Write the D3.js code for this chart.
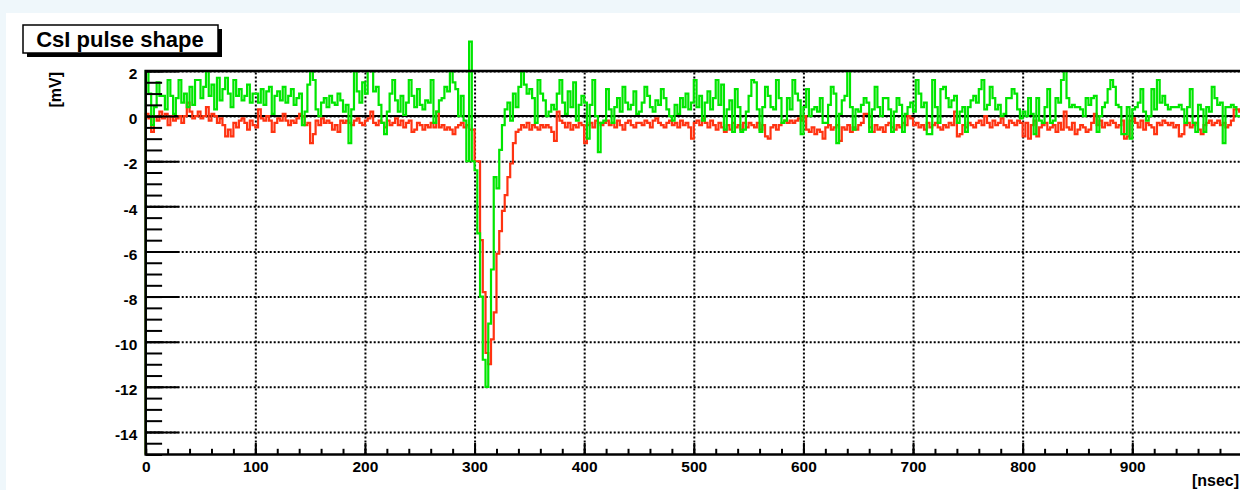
<!DOCTYPE html>
<html>
<head>
<meta charset="utf-8">
<script src="https://cdn.jsdelivr.net/npm/d3@7"></script>
<style>
  body { margin: 0; background: #eff7fb; }
  svg { display: block; font-family: "Liberation Sans", Arial, Helvetica, sans-serif; font-weight: bold; }
  .grid line { stroke: #000; stroke-width: 2; stroke-dasharray: 2 2; }
  .grid path { display: none; }
  .axis path { display: none; }
  .axis line { stroke: #000; stroke-width: 2; }
  .axis text { font-family: "Liberation Sans", Arial, Helvetica, sans-serif; font-size: 15.5px; font-weight: bold; fill: #000; }
</style>
</head>
<body>
<svg id="chart" width="1240" height="490"></svg>
<script>
// bin contents in mV, 2.5 ns per bin, 0..1000 ns
const binWidth = 2.5;

const greenPulse = [
   2.0, 1.0,-0.4, 0.4, 1.5, 0.9, 0.9, 0.3, 1.6, 0.9, 0.1, 0.8, 1.6, 0.6, 1.0, 0.4, 1.3, 0.5, 1.6, 1.6,
   0.8, 1.3, 2.0, 0.9, 1.4, 0.3, 1.7, 0.7, 1.2, 1.7, 1.0, 0.4, 1.6, 0.9, 1.2, 0.7, 0.9, 1.4, 0.6, 1.0,
   1.0, 0.6, 1.2, 0.5, 1.1, 1.3, 0.1, 0.9, 1.1, 0.7, 1.3, 0.6, 0.9, 1.2, 0.5, 0.8, 1.0,-0.4, 0.2, 1.4,
   2.0, 1.6, 0.3, 0.0, 0.6, 0.8, 0.4, 0.9, 0.6, 0.5, 1.0, 0.7, 0.2, 0.5,-1.2, 0.3, 2.0, 1.1, 0.6, 1.5,
   1.0, 2.0, 2.0, 1.1, 1.3, 0.5,-0.3,-0.8, 0.2, 1.0, 1.6, 0.7, 0.2, 0.9, 0.05,0.6, 1.6, 0.9, 0.4, 1.2,
   0.5, 0.3, 0.7, 0.6, 1.6,-0.3, 0.2, 0.7, 0.8, 1.3, 1.1, 2.0, 1.5, 1.2, 0.0, 0.9,-0.2,-2.0, 3.3,-2.0,
  -2.4,-5.2,-8.0,-10.8,-12.0,-9.2,-6.8,-2.7,-3.2,-1.5,-0.4, 0.3, 0.6,-0.2, 1.0, 0.4, 1.3, 2.0, 1.4, 1.0,
   1.2, 0.8,-0.3, 1.6, 1.0, 0.7, 0.0, 0.2, 0.5, 0.3, 1.0, 1.6, 0.6, 0.1, 1.1, 0.4, 1.5,-0.2, 0.5, 0.9,
   0.6,-1.0, 0.5, 1.6, 0.0,-1.6,-0.3,-0.2, 1.2, 0.3,-0.3, 0.4, 0.8, 0.2, 1.3, 0.6, 0.3, 0.5, 1.1, 0.1,
   0.2, 0.6, 1.3, 0.9, 0.4, 0.2, 0.7, 0.5, 1.2, 0.8, 0.3, 0.0,-0.2, 0.5, 0.1, 0.8, 0.4, 1.0, 0.3, 0.6,
   1.6, 0.4, 0.9,-0.2, 0.6, 1.1, 0.3, 0.8, 1.6, 0.5, 1.4,-0.6, 0.3, 0.7,-0.7, 1.2, 0.4,-0.7,-0.6, 0.2,
   0.9, 1.6, 1.5, 0.3,-0.7, 0.4, 1.3, 0.9, 0.4, 0.3, 1.6, 0.8,-0.3,-0.2, 0.8, 0.3, 1.6, 1.0, 0.7,-0.8,
   0.4, 1.2, 0.0, 0.3, 0.4, 0.2, 0.8,-0.3,-0.3, 0.5, 1.3, 1.0,-1.2, 0.1, 0.7, 0.9, 2.0, 0.4,-0.6, 0.3,
   0.2, 0.5, 0.8, 0.6,-0.7, 0.3, 1.3, 0.4, 0.0, 0.8, 0.8, 0.3,-0.7, 0.2, 0.8, 0.5,-0.7, 0.1, 0.4, 0.6,
   0.2, 1.6, 1.0, 0.4, 0.6,-0.8,-0.8, 1.6, 0.4,-0.3, 1.2, 1.3, 0.8, 0.4, 0.7, 0.9,-0.3, 0.2, 0.4,-0.7,
   0.4, 0.7, 0.9, 0.6, 1.2, 1.6, 0.3, 0.5, 1.3, 0.8, 0.3, 0.5, 0.0, 0.1, 0.8, 0.8, 1.2, 1.0, 0.3,-0.1,
   0.2, 0.0, 0.8, 0.1,-0.8, 0.8,-0.2,-0.3, 0.4, 1.2,-0.3,-0.2, 0.8, 0.6, 1.6, 2.0, 0.8, 0.4, 0.5, 0.4,
   0.4, 0.3, 0.0, 0.8, 0.5, 0.8, 0.9,-0.7, 0.0, 0.4, 0.6, 1.2, 1.6, 1.3, 0.5, 0.4,-0.8,-0.8, 0.4,-1.0,
   0.3, 0.4, 0.6, 1.2, 0.2,-0.2, 0.0, 1.2, 0.3, 1.6, 0.6, 0.9, 0.5, 0.3, 0.4, 0.4, 0.4, 0.5, 0.3,-0.3,
   0.4, 1.2,-0.3,-0.7, 0.5, 0.3,-0.7, 0.4, 0.2, 1.3, 0.8, 0.5, 0.6,-1.2, 0.4, 0.4, 0.5, 0.4, 0.0, 0.0
];

const redPulse = [
   0.1,-0.1,-0.7, 0.0,-0.2, 0.2,-0.1, 0.1,-0.4, 0.0,-0.2,-0.1, 0.0,-0.3, 0.0, 0.6, 0.2,-0.1, 0.0, 0.2,
  -0.1, 0.0, 0.4,-0.2, 0.1, 0.0,-0.3,-0.1,-0.4,-0.9,-0.6,-0.9,-0.3,-0.5,-0.2,-0.1,-0.3,-0.6,-0.2,-0.4,
  -0.5, 0.3,-0.1,-0.2, 0.0,-0.2,-0.7,-0.3,-0.1,-0.2, 0.1,-0.2,-0.4,-0.2,-0.3,-0.1, 0.1, 0.0,-0.4,-0.3,
  -1.2,-0.8,-0.2,-0.4,-0.1,-0.3,-0.2,-0.3,-0.6,-0.4,-0.7,-0.2,-0.3,-0.2,-0.3,-0.4,-0.2,-0.1,-0.3,-0.4,
  -0.2,-0.1, 0.2,-0.3,-0.4,-0.2,-0.3,-0.5,-0.2,-0.4,-0.3,-0.1,-0.4,-0.2,-0.5,-0.3,-0.2,-0.7,-0.6,-0.3,
  -0.4,-0.6,-0.4,-0.5,-0.3,-0.5, 0.2,-0.5,-0.4,-0.6,-0.5,-0.6,-0.8,-0.5,-0.4,-0.3,-0.5,-0.4,-0.6,-0.6,
  -2.0,-2.0,-5.5,-7.8,-10.5,-11.0,-9.9,-8.7,-6.1,-5.1,-4.2,-3.5,-2.7,-2.1,-1.2,-0.7,-0.6,-0.4,-0.5,-0.3,
  -0.6,-0.4,-0.5,-0.6,-0.4,-0.5,-0.4,-0.5,-0.7,-1.1, 0.2,-0.2,-0.3,-0.5,-0.3,-0.6,-0.4,-0.5,-0.3,-0.4,
  -1.2,-0.4,-0.3,-0.5,-0.2,-0.3,-0.4,-0.3,-0.2,-0.4,-0.3,-0.5,-0.2,-0.4,-0.6,-0.3,-0.2,-0.4,-0.5,-0.3,
  -0.3,-0.4,-0.2,-0.3,-0.5,-0.2,-0.1,-0.3,-0.4,-0.5,-0.3,-0.2,-0.4,-0.3,-0.5,-0.2,-0.4,-0.3,-0.5,-1.0,
  -0.3,-0.2,-0.4,-0.1,-0.3,-0.5,-0.2,-0.4,-0.6,-0.3,-0.5,-0.7,-0.4,-0.6,-0.3,-0.5,-0.4,-0.6,-0.3,-0.5,
  -0.3,-0.4,-0.5,-0.3,-0.6,-0.4,-0.9,-1.0,-0.5,-0.4,-0.6,-0.4,-0.3,-0.2,-0.3,-0.2,-0.3,-0.2,-0.1,-0.2,
   0.0,-0.6,-0.7,-0.5,-0.8,-0.6,-0.7,-1.0,-0.5,-0.4,-0.6,-0.5,-0.4,-1.1,-0.5,-0.6,-0.4,-0.7,-0.5,-0.6,
  -0.4,-0.3, 0.1, 0.1,-0.5,-0.7,-0.4,-0.6,-0.5,-0.7,-0.4,-0.3,-0.5,-0.6,-0.4,-0.5,-0.3,-0.4, 0.0,-0.1,
  -0.4,-0.3,-0.5,-0.4,-0.6,-0.3,-0.5,-0.4,-0.3,-0.5,-0.6,-0.4,-0.5,-0.3,-0.4, 0.2,-0.9,-0.8,-0.4,-0.5,
  -0.3,-0.4,-0.5,-0.3,-0.2,-0.4, 0.0,-0.3,-0.5,-0.2,-0.4,-0.3,-0.1,-0.4,-0.5,-0.2,-0.3,-0.4,-0.2,-0.3,
  -0.9,-0.3,-1.0,-0.4,-0.2,-0.9,-0.5,-0.4,-0.3,-0.6,-0.5,-0.4,-0.7,-0.3,-0.6, 0.2,-0.5,-0.6,-0.3,-0.8,
  -0.6,-0.4,-0.5,-0.7,-0.6,-0.3, 0.1,-0.4,-0.2,-0.5,-0.3,-0.4,-0.2,-0.3,-0.5,-0.4,-0.2,-1.0,-0.9,-0.2,
  -0.1,-0.3,-0.5,-0.2,-0.6,-0.3,-0.4,-0.5,-0.8,-0.3,-0.4,-0.2,-0.3,-0.4,-0.3,-0.5,-0.4,-0.9,-0.8,-0.4,
  -0.3,-0.5,-0.4,-0.3,-0.6,-0.8,-0.4,-0.3,-0.2,-0.4,-0.3,-0.2,-0.4,-0.3,-0.5,-0.4,-0.2, 0.3, 0.3, 0.2
];

const xMajorTicks = [0, 100, 200, 300, 400, 500, 600, 700, 800, 900];
const xMinorTicks = d3.range(0, 1001, 20);
const yMajorTicks = [2, 0, -2, -4, -6, -8, -10, -12, -14];
const yMinorTicks = d3.range(-15, 2.01, 0.5);

const titleText = "CsI pulse shape";
const xTitle = "[nsec]";
const yTitle = "[mV]";

const svg = d3.select("#chart");

// canvas area
svg.append("rect")
    .attr("x", 6).attr("y", 13)
    .attr("width", 1234).attr("height", 477)
    .attr("fill", "#fff");

const x = d3.scaleLinear().domain([0, 1000]).range([145.7, 1241.9]);
const y = d3.scaleLinear().domain([-15, 2]).range([454.5, 71]);
const [x0, x1] = x.range();
const [y0, y1] = y.range();

// plain hyphen for negatives, like the original
const fmt = d => String(d);

// dotted grid
svg.append("g")
    .attr("class", "grid")
    .attr("transform", `translate(0,${y0})`)
    .call(d3.axisBottom(x).tickValues(xMajorTicks.filter(d => d > 0)).tickSize(-(y0 - y1)).tickFormat(""));
svg.append("g")
    .attr("class", "grid")
    .attr("transform", `translate(${x0},0)`)
    .call(d3.axisLeft(y).tickValues(yMajorTicks).tickSize(-(x1 - x0)).tickFormat(""));

// zero line
svg.append("line")
    .attr("x1", x0).attr("x2", x1)
    .attr("y1", y(0)).attr("y2", y(0))
    .attr("stroke", "#000").attr("stroke-width", 2);

// histograms, drawn the ROOT way: start and end on the frame floor
const histPoints = values => {
    const pts = [[0, -15]];
    values.forEach((v, i) => {
        pts.push([i * binWidth, v]);
        pts.push([(i + 1) * binWidth, v]);
    });
    pts.push([values.length * binWidth, -15]);
    return pts;
};
const line = d3.line().x(d => x(d[0])).y(d => y(d[1]));

svg.append("path")
    .attr("d", line(histPoints(redPulse)))
    .attr("fill", "none")
    .attr("stroke", "#ff3311")
    .attr("stroke-width", 2.2);

svg.append("path")
    .attr("d", line(histPoints(greenPulse)))
    .attr("fill", "none")
    .attr("stroke", "#00e600")
    .attr("stroke-width", 2.2);

// frame
svg.append("rect")
    .attr("x", x0).attr("y", y1)
    .attr("width", x1 - x0).attr("height", y0 - y1)
    .attr("fill", "none")
    .attr("stroke", "#000")
    .attr("stroke-width", 2.5);

// x axis (ticks point inward)
svg.append("g")
    .attr("class", "axis")
    .attr("transform", `translate(0,${y0})`)
    .call(d3.axisBottom(x).tickValues(xMajorTicks).tickSize(-11.5).tickPadding(6.5).tickFormat(fmt));
svg.append("g")
    .attr("class", "axis")
    .attr("transform", `translate(0,${y0})`)
    .call(d3.axisBottom(x).tickValues(xMinorTicks).tickSize(-5.7).tickFormat(""));

// y axis
svg.append("g")
    .attr("class", "axis")
    .attr("transform", `translate(${x0},0)`)
    .call(d3.axisLeft(y).tickValues(yMajorTicks).tickSize(-32.9).tickPadding(8.4).tickFormat(fmt))
    .selectAll("text").attr("dy", "0.5em");
svg.append("g")
    .attr("class", "axis")
    .attr("transform", `translate(${x0},0)`)
    .call(d3.axisLeft(y).tickValues(yMinorTicks).tickSize(-16.4).tickFormat(""));

// axis titles
svg.append("text")
    .attr("transform", `translate(61,${y1 + 1}) rotate(-90)`)
    .attr("text-anchor", "end")
    .attr("font-size", 16)
    .text(yTitle);

svg.append("text")
    .attr("x", 1239).attr("y", 486)
    .attr("text-anchor", "end")
    .attr("font-size", 16)
    .text(xTitle);

// title box with shadow
svg.append("rect")
    .attr("x", 27).attr("y", 29)
    .attr("width", 195).attr("height", 28)
    .attr("fill", "#000");
svg.append("rect")
    .attr("x", 23).attr("y", 25)
    .attr("width", 195).attr("height", 28)
    .attr("fill", "#fff")
    .attr("stroke", "#000")
    .attr("stroke-width", 1.5);
svg.append("text")
    .attr("x", 120).attr("y", 46.5)
    .attr("text-anchor", "middle")
    .attr("font-size", 22)
    .text(titleText);
</script>
</body>
</html>
